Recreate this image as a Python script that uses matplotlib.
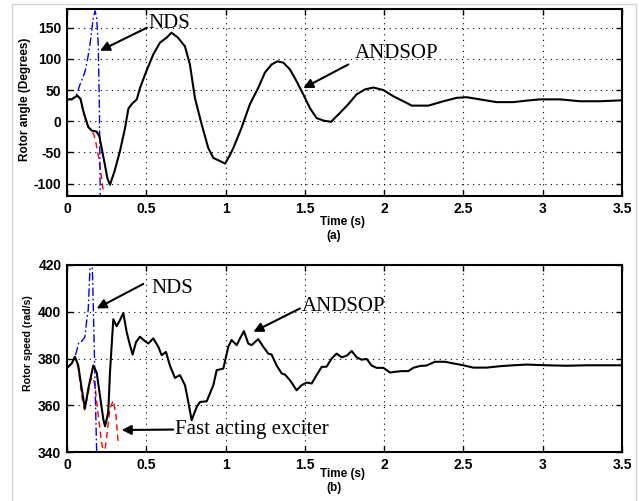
import matplotlib
matplotlib.use("Agg")
import matplotlib.pyplot as plt
from matplotlib.patches import Rectangle

plt.rcParams["axes.unicode_minus"] = False

# ---------------- data ----------------
# (a) rotor angle, degrees
angle_t = [0, 0.03, 0.065, 0.085, 0.103, 0.12, 0.134, 0.155, 0.177, 0.187, 0.204,
           0.22, 0.239, 0.255, 0.271, 0.30, 0.334, 0.366, 0.387, 0.41, 0.44, 0.46,
           0.50, 0.544, 0.586, 0.628, 0.659, 0.70, 0.744, 0.775, 0.807, 0.849,
           0.891, 0.923, 0.965, 0.997, 1.028, 1.049, 1.10, 1.153, 1.206, 1.248,
           1.29, 1.326, 1.364, 1.406, 1.448, 1.49, 1.532, 1.574, 1.617, 1.665,
           1.72, 1.773, 1.826, 1.879, 1.932, 1.995, 2.058, 2.121, 2.174, 2.279,
           2.374, 2.458, 2.52, 2.604, 2.709, 2.814, 2.898, 2.98, 3.11, 3.235,
           3.36, 3.5]
angle_andsop = [35, 35, 41, 36, 16, 2, -9, -15, -16, -17, -24,
                -45, -70, -92, -102, -80, -48, -11, 20, 28, 35, 53,
                80, 107, 126, 134, 142, 134, 120, 91, 37, -5,
                -43, -59, -64, -68, -54, -43, -11, 27, 53.5, 78,
                91, 96, 94, 83, 64, 43, 21, 5, 1, -1,
                13, 27, 43, 51, 54, 50, 40, 32, 25, 25,
                32, 37.5, 38.5, 35, 30.6, 30.6, 33, 35, 35, 32,
                32, 33.5]

angle_nds_t = [0, 0.03, 0.06, 0.082, 0.1, 0.114, 0.13, 0.145, 0.158, 0.166,
               0.177, 0.187, 0.197, 0.204, 0.21]
angle_nds = [35, 35, 42, 59, 70, 80, 100, 123, 150, 166,
             177, 166, 123, 27, -125]

angle_fast_t = [0, 0.03, 0.065, 0.085, 0.103, 0.12, 0.134, 0.155, 0.17, 0.18,
                0.197, 0.218, 0.23]
angle_fast = [35, 35, 41, 35, 14, 0, -10, -15, -22, -32,
              -54, -91, -115]

# (b) rotor speed, rad/s
speed_t = [0, 0.03, 0.05, 0.071, 0.093, 0.113, 0.134, 0.166, 0.187, 0.208,
           0.229, 0.24, 0.26, 0.271, 0.292, 0.313, 0.334, 0.355, 0.376, 0.397,
           0.414, 0.435, 0.46, 0.492, 0.513, 0.544, 0.576, 0.597, 0.624, 0.649,
           0.681, 0.712, 0.744, 0.765, 0.786, 0.818, 0.839, 0.881, 0.923, 0.944,
           0.986, 1.017, 1.038, 1.07, 1.091, 1.116, 1.143, 1.164, 1.206, 1.238,
           1.269, 1.29, 1.322, 1.354, 1.375, 1.406, 1.427, 1.448, 1.48, 1.511,
           1.543, 1.574, 1.606, 1.637, 1.669, 1.7, 1.732, 1.764, 1.795, 1.827,
           1.858, 1.89, 1.921, 1.953, 1.995, 2.037, 2.068, 2.11, 2.152, 2.183,
           2.226, 2.268, 2.32, 2.383, 2.436, 2.499, 2.562, 2.646, 2.73, 2.814,
           2.898, 3.025, 3.15, 3.277, 3.403, 3.5]
speed_andsop = [376, 377.9, 380.7, 377, 367, 358.6, 367, 377, 374, 364,
                354, 351, 357, 374, 396.8, 393.8, 396.4, 399.5, 391.4, 385.7,
                381.7, 387, 389.3, 387.4, 386.4, 388.6, 385, 381.4, 382.8, 377,
                371.7, 372.9, 368.6, 361.4, 353.6, 359.3, 361.4, 361.7, 368.6, 375,
                375.7, 385, 387.9, 385.7, 388.6, 391.7, 386.4, 385.7, 388.3, 385,
                382.1, 381.7, 377, 373.6, 373.1, 370.7, 368.6, 366.4, 368.6, 369.7,
                369.3, 372.9, 376.4, 376.5, 380, 382.1, 380.5, 381.2, 383.2, 380.5,
                379.5, 379.8, 377, 376, 376, 374, 374.3, 374.6, 374.6, 376,
                376.8, 377, 378.6, 378.6, 377.9, 377.1, 376.1, 376.1, 376.7, 377.1,
                377.4, 377.1, 376.9, 377.1, 377.1, 377.1]

speed_nds_t = [0, 0.03, 0.05, 0.06, 0.075, 0.093, 0.107, 0.113, 0.124, 0.134,
               0.145, 0.152, 0.16, 0.166, 0.177, 0.187]
speed_nds = [376, 377.9, 380.7, 383, 387, 387.4, 388.6, 389.3, 396, 401,
             419, 425, 418, 402, 369, 340]

speed_fast_t = [0, 0.03, 0.05, 0.071, 0.093, 0.11, 0.13, 0.15, 0.165, 0.177,
                0.197, 0.218, 0.235, 0.25, 0.271, 0.292, 0.309, 0.324]
speed_fast = [376, 377.9, 380.5, 376, 364, 358, 364, 371, 372, 368,
              355.7, 344, 338.5, 346.4, 358.6, 362, 355.7, 342.9]

x_ticks = [0, 0.5, 1, 1.5, 2, 2.5, 3, 3.5]
x_tick_labels = ["0", "0.5", "1", "1.5", "2", "2.5", "3", "3.5"]
angle_ticks = [-100, -50, 0, 50, 100, 150]
speed_ticks = [340, 360, 380, 400, 420]

# ---------------- styling ----------------
W, H = 639, 501
SANS = ["Liberation Sans", "DejaVu Sans"]
SANS_NARROW = ["Liberation Sans Narrow", "Liberation Sans", "DejaVu Sans"]
SERIF = ["Liberation Serif", "DejaVu Serif"]
NOTE_SIZE = 15

fig = plt.figure(figsize=(W / 100, H / 100), dpi=100)
fig.patch.set_facecolor("white")

# light page frame
fig.patches.append(Rectangle((12 / W, -0.05), (636 - 12) / W, 1.05 - 4 / H,
                             transform=fig.transFigure, fill=False,
                             edgecolor="#d4d4d4", lw=1.0))


def px_box(left, top, right, bottom):
    return [left / W, 1 - bottom / H, (right - left) / W, (bottom - top) / H]


ax1 = fig.add_axes(px_box(67, 9, 622, 196))
ax2 = fig.add_axes(px_box(67, 265, 622, 452))

dash_dot = (0, (6, 2, 1.2, 2))
dashed = (0, (4.5, 3))


def style_axes(ax, yticks, ylim):
    ax.set_xlim(0, 3.5)
    ax.set_ylim(*ylim)
    ax.set_xticks(x_ticks)
    ax.set_xticklabels(x_tick_labels)
    ax.set_yticks(yticks)
    ax.grid(True, color="black", linestyle=(0, (1, 4)), linewidth=0.8)
    ax.tick_params(direction="in", length=4, width=1, top=True, right=True,
                   labelsize=10, pad=4)
    for lab in ax.get_xticklabels() + ax.get_yticklabels():
        lab.set_fontfamily(SANS)
        lab.set_fontweight("bold")
    for sp in ax.spines.values():
        sp.set_linewidth(1.5)


arrow = dict(arrowstyle="-|>", color="black", lw=1.5, mutation_scale=14,
             shrinkA=0, shrinkB=0)

# (a)
ax1.plot(angle_fast_t, angle_fast, color="red", linestyle=dashed, lw=1.0)
ax1.plot(angle_nds_t, angle_nds, color="blue", linestyle=dash_dot, lw=1.0)
ax1.plot(angle_t, angle_andsop, color="black", lw=1.5)
style_axes(ax1, angle_ticks, (-120, 180))
ax1.set_ylabel("Rotor angle (Degrees)", fontfamily=SANS, fontweight="bold",
               fontsize=8.5)
ax1.yaxis.label.set_va("center")
ax1.yaxis.set_label_coords(-0.0757, 0.518)

ax1.annotate("", xy=(0.208, 113), xytext=(0.504, 150), arrowprops=arrow)
ax1.text(0.511, 157, "NDS", fontfamily=SERIF, fontsize=NOTE_SIZE,
         va="center", ha="left")
ax1.annotate("", xy=(1.49, 53), xytext=(1.774, 91), arrowprops=arrow)
ax1.text(1.816, 108, "ANDSOP", fontfamily=SERIF, fontsize=NOTE_SIZE,
         va="center", ha="left")

# (b)
ax2.plot(speed_fast_t, speed_fast, color="red", linestyle=dashed, lw=1.0)
ax2.plot(speed_nds_t, speed_nds, color="blue", linestyle=dash_dot, lw=1.0)
ax2.plot(speed_t, speed_andsop, color="black", lw=1.5)
style_axes(ax2, speed_ticks, (340, 420))
ax2.set_ylabel("Rotor speed (rad/s)", fontfamily=SANS_NARROW, fontweight="bold",
               fontsize=7.6)
ax2.yaxis.label.set_va("center")
ax2.yaxis.set_label_coords(-0.071, 0.583)

ax2.annotate("", xy=(0.187, 401.4), xytext=(0.481, 411.9), arrowprops=arrow)
ax2.text(0.534, 410.1, "NDS", fontfamily=SERIF, fontsize=NOTE_SIZE,
         va="center", ha="left")
ax2.annotate("", xy=(1.175, 391.4), xytext=(1.469, 401.4), arrowprops=arrow)
ax2.text(1.48, 402.2, "ANDSOP", fontfamily=SERIF, fontsize=NOTE_SIZE,
         va="center", ha="left")
ax2.annotate("", xy=(0.345, 349.4), xytext=(0.67, 349.6), arrowprops=arrow)
ax2.text(0.681, 349.5, "Fast acting exciter", fontfamily=SERIF,
         fontsize=NOTE_SIZE, va="center", ha="left")

# axis titles under each panel
for ycen, sub in ((222, "(a)"), (474, "(b)")):
    fig.text(342.5 / W, 1 - ycen / H, "Time (s)", fontfamily=SANS,
             fontweight="bold", fontsize=8.5, ha="center", va="center")
    fig.text(334 / W, 1 - (ycen + 13.5) / H, sub, fontfamily=SANS,
             fontweight="bold", fontsize=8.5, ha="center", va="center")

fig.savefig("out.png", dpi=100, facecolor="white")
